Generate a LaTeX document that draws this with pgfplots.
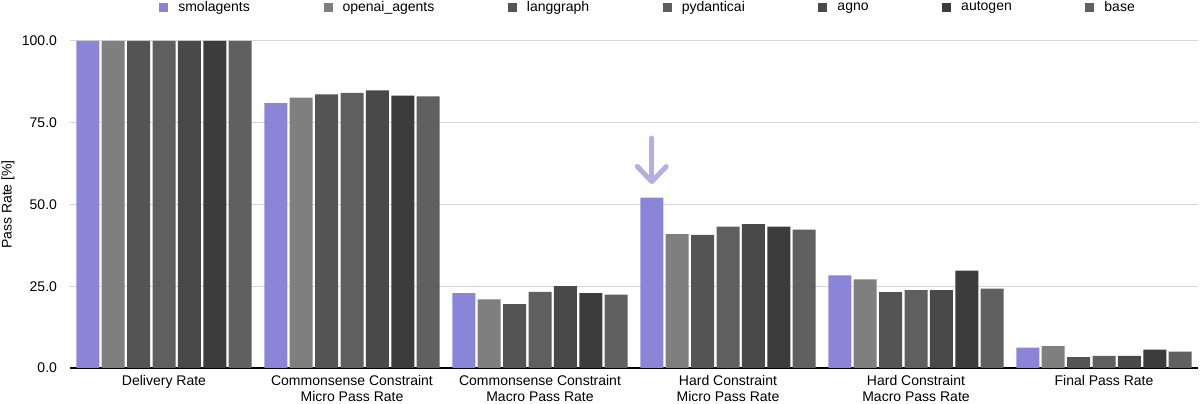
\documentclass[border=0pt]{standalone}
\usepackage{fontspec}
\setmainfont{Liberation Sans}
\usepackage{pgfplots}
\usepackage{pgfplotstable}
\pgfplotsset{compat=1.18}
\usetikzlibrary{calc}

\definecolor{csmol}{HTML}{8A85D8}
\definecolor{copenai}{HTML}{7F7F7F}
\definecolor{clang}{HTML}{545454}
\definecolor{cpyd}{HTML}{5F5F5F}
\definecolor{cagno}{HTML}{494949}
\definecolor{cauto}{HTML}{3C3C3C}
\definecolor{cbase}{HTML}{606060}
\definecolor{carrow}{HTML}{B4AFE2}
\definecolor{cgrid}{HTML}{D6D6D6}

% x  smol  openai  lang  pyd  agno  auto  base
\pgfplotstableread{
x smol openai lang pyd agno auto base
0 100.0 100.0 100.0 100.0 100.0 100.0 100.0
1 81.0 82.7 83.7 84.1 84.9 83.3 83.1
2 22.9 21.0 19.5 23.3 25.0 22.9 22.4
3 52.1 40.9 40.7 43.2 44.0 43.2 42.3
4 28.3 27.1 23.2 23.8 23.8 29.8 24.3
5 6.2 6.7 3.3 3.7 3.7 5.6 5.0
}\passrates

\begin{document}
\begin{tikzpicture}
\begin{axis}[
    name=ax,
    scale only axis,
    width=564pt,
    height=163.5pt,
    ybar=1.2pt,
    bar width=11.5pt,
    xmin=-0.5, xmax=5.5,
    ymin=0, ymax=100,
    xtick=data,
    xticklabels={Delivery Rate,
        Commonsense Constraint\\Micro Pass Rate,
        Commonsense Constraint\\Macro Pass Rate,
        Hard Constraint\\Micro Pass Rate,
        Hard Constraint\\Macro Pass Rate,
        Final Pass Rate},
    xticklabel style={align=center, font=\fontsize{7}{8}\selectfont},
    ytick={0,25,50,75,100},
    yticklabel style={font=\fontsize{7}{8}\selectfont, xshift=-3pt},
    /pgf/number format/assume math mode=true,
    yticklabel={\pgfmathprintnumber[fixed,fixed zerofill,precision=1]{\tick}},
    major tick length=0pt,
    axis x line*=bottom,
    axis y line*=left,
    y axis line style={draw=none},
    x axis line style={black, line width=0.6pt},
    ymajorgrids,
    grid style={cgrid, line width=0.5pt},
    ylabel={Pass Rate [\%]},
    ylabel style={at={(axis description cs:-0.055,0.5)}, anchor=center, font=\fontsize{7}{8}\selectfont},
    legend columns=7,
    legend style={draw=none, fill=none, at={(axis description cs:0.516,1.101)}, anchor=center,
        font=\fontsize{7}{8}\selectfont,
        /tikz/every even column/.append style={column sep=31.8pt},
        nodes={inner xsep=5pt}},
    legend image code/.code={\fill[#1] (0pt,-2.25pt) rectangle (4.5pt,2.25pt);},
]
\addplot[fill=csmol, draw=none] table[x=x, y=smol] {\passrates};
\addplot[fill=copenai, draw=none] table[x=x, y=openai] {\passrates};
\addplot[fill=clang, draw=none] table[x=x, y=lang] {\passrates};
\addplot[fill=cpyd, draw=none] table[x=x, y=pyd] {\passrates};
\addplot[fill=cagno, draw=none] table[x=x, y=agno] {\passrates};
\addplot[fill=cauto, draw=none] table[x=x, y=auto] {\passrates};
\addplot[fill=cbase, draw=none] table[x=x, y=base] {\passrates};
\legend{smolagents, openai\_agents, langgraph, pydanticai, agno, autogen, base}
% highlight arrow over the smolagents bar of Hard Constraint Micro
\draw[carrow, line width=2.5pt, line cap=round, line join=round]
    ([xshift=-38.1pt]axis cs:3,70.3) -- ([xshift=-38.1pt]axis cs:3,57.2);
\draw[carrow, line width=2.5pt, line cap=round, line join=round]
    ([xshift=-45.3pt]axis cs:3,61.6) -- ([xshift=-38.1pt]axis cs:3,57.0) -- ([xshift=-30.9pt]axis cs:3,61.6);
\end{axis}
\pgfresetboundingbox
\path ($(ax.south west)+(-35pt,-18pt)$) rectangle ($(ax.north east)+(1pt,20.5pt)$);
\end{tikzpicture}
\end{document}
